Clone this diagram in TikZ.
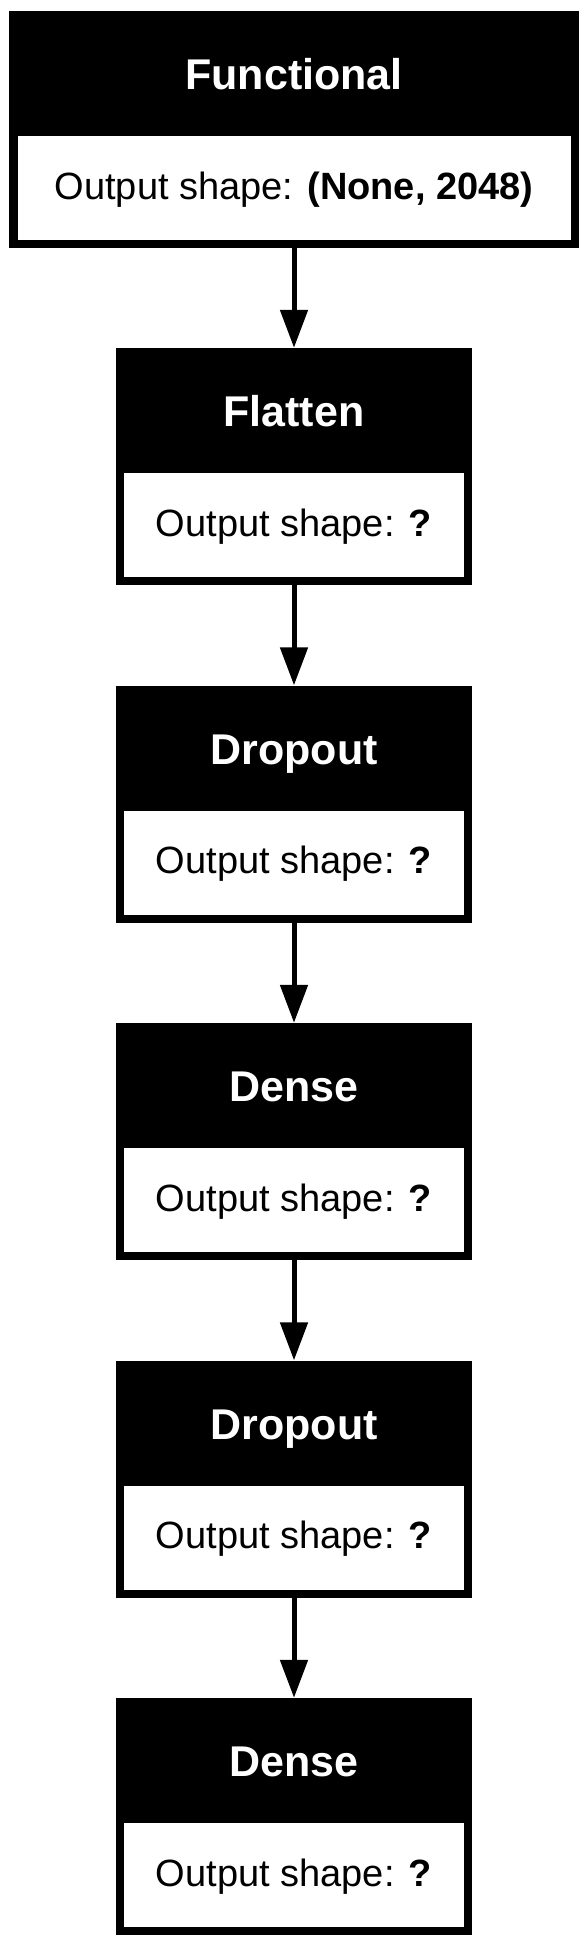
\documentclass[tikz,border=0pt]{standalone}
\usepackage{fontspec}
\setmainfont{Liberation Sans}
\usetikzlibrary{arrows.meta}
\tikzset{
  layer/.style={fill=black, inner sep=0pt, minimum width=356pt, minimum height=237pt},
  shapebox/.style={fill=white, inner sep=0pt, minimum width=340pt, minimum height=104pt},
  layername/.style={text=white, anchor=base, inner sep=0pt, font=\fontsize{43}{46}\selectfont\bfseries},
  shapetext/.style={anchor=base, inner sep=0pt, font=\fontsize{38}{40}\selectfont},
  flow/.style={line width=5pt, -{Triangle[width=27pt,length=38pt]}}
}
\begin{document}
\begin{tikzpicture}[x=1pt, y=-1pt]
\useasboundingbox (0,0) rectangle (588,1947);
% input block
\node (functional) [layer, minimum width=570pt] at (294,129.5) {};
\node (functionalout) [shapebox, minimum width=553pt] at (294,188) {};
\node (functionalname) [layername] at (294,89.5) {Functional};
\node (functionaltext) [shapetext] at (294,199) {Output shape: \textbf{(None, 2048)}};
% stacked layers
\foreach \name/\title [count=\i from 0] in {flatten/Flatten, dropa/Dropout, densea/Dense, dropb/Dropout, denseb/Dense} {
  \pgfmathsetmacro\toprow{348+337.5*\i}
  \node (\name) [layer] at (294,\toprow+118.5) {};
  \node (\name out) [shapebox] at (294,\toprow+177) {};
  \node (\name name) [layername] at (294,\toprow+78.5) {\title};
  \node (\name text) [shapetext] at (294,\toprow+188) {Output shape: \textbf{?}};
}
\draw [flow] (functional.south) -- (flatten.north);
\draw [flow] (flatten.south) -- (dropa.north);
\draw [flow] (dropa.south) -- (densea.north);
\draw [flow] (densea.south) -- (dropb.north);
\draw [flow] (dropb.south) -- (denseb.north);
\end{tikzpicture}
\end{document}
